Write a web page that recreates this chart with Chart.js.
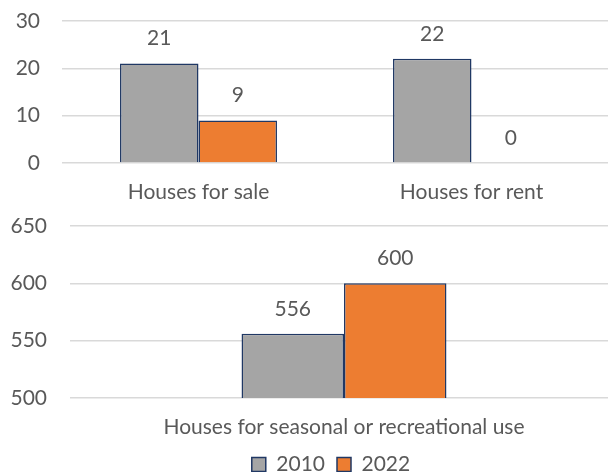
<!DOCTYPE html>
<html>
<head>
<meta charset="utf-8">
<script src="https://cdn.jsdelivr.net/npm/chart.js@4"></script>
<style>
  html, body { margin: 0; padding: 0; background: #fff; }
  #wrap { width: 608px; height: 472px; position: relative; overflow: hidden; }
  #top { position: absolute; left: 0; top: 0; }
  #bottom { position: absolute; left: 0; top: 210px; }
</style>
</head>
<body>
<div id="wrap">
  <canvas id="top" width="608" height="210"></canvas>
  <canvas id="bottom" width="618" height="262"></canvas>
</div>
<script>
var years = ['2010', '2022'];
var topCategories = ['Houses for sale', 'Houses for rent'];
var topValues2010 = [21, 22];
var topValues2022 = [9, 0];
var bottomCategories = ['Houses for seasonal or recreational use'];
var bottomValues2010 = [556];
var bottomValues2022 = [600];

var textColor = '#595959';
var fontFamily = 'Lato, "Noto Sans", sans-serif';
var gray = '#A5A5A5';
var orange = '#ED7D31';
var edge = '#203864';

Chart.defaults.font.family = fontFamily;
Chart.defaults.font.size = 21;
Chart.defaults.color = textColor;

// value labels above each bar
var valueLabels = {
  id: 'valueLabels',
  afterDatasetsDraw: function (chart) {
    var c = chart.ctx;
    c.save();
    c.font = '21px ' + fontFamily;
    c.fillStyle = textColor;
    c.textAlign = 'center';
    c.textBaseline = 'middle';
    chart.data.datasets.forEach(function (ds, i) {
      chart.getDatasetMeta(i).data.forEach(function (bar, j) {
        c.fillText(ds.data[j], bar.x, bar.y - 25);
      });
    });
    c.restore();
  }
};

// nudge the legend a bit right, like the original
var legendShift = {
  id: 'legendShift',
  afterLayout: function (chart) {
    if (chart.legend) {
      chart.legend.left += 22;
      chart.legend.right += 22;
    }
  }
};

function makeSets(a, b) {
  return [
    { label: years[0], data: a, backgroundColor: gray, borderColor: edge, borderWidth: 1.5 },
    { label: years[1], data: b, backgroundColor: orange, borderColor: edge, borderWidth: 1.5 }
  ];
}

function scales(min, max, step, yWidth, yPad, xHeight) {
  return {
    x: {
      grid: { display: false, drawTicks: false },
      border: { display: false },
      ticks: { padding: 17 },
      afterFit: function (s) {
        s.height = xHeight;
        s.paddingLeft = 0; s.paddingRight = 0;
      }
    },
    y: {
      min: min, max: max,
      ticks: { stepSize: step, padding: yPad },
      grid: { color: '#D9D9D9', lineWidth: 1.5, drawTicks: false },
      border: { display: false },
      afterFit: function (s) {
        s.width = yWidth;
        s.paddingTop = 0; s.paddingBottom = 0;
      }
    }
  };
}

new Chart(document.getElementById('top'), {
  type: 'bar',
  data: { labels: topCategories, datasets: makeSets(topValues2010, topValues2022) },
  options: {
    responsive: false,
    animation: false,
    categoryPercentage: 0.575,
    barPercentage: 1,
    layout: { padding: { top: 21, left: 0, right: 0, bottom: 0 } },
    plugins: { legend: { display: false }, tooltip: { enabled: false } },
    scales: scales(0, 30, 10, 62, 22, 47)
  },
  plugins: [valueLabels]
});

new Chart(document.getElementById('bottom'), {
  type: 'bar',
  data: { labels: bottomCategories, datasets: makeSets(bottomValues2010, bottomValues2022) },
  options: {
    responsive: false,
    animation: false,
    categoryPercentage: 0.374,
    barPercentage: 1,
    layout: { padding: { top: 16, left: 0, right: 0, bottom: 0 } },
    plugins: {
      legend: {
        position: 'bottom',
        maxHeight: 30,
        labels: { boxWidth: 14, boxHeight: 14, padding: 12, font: { size: 21 } }
      },
      tooltip: { enabled: false }
    },
    scales: scales(500, 650, 50, 70, 23, 44)
  },
  plugins: [valueLabels, legendShift]
});
</script>
</body>
</html>
